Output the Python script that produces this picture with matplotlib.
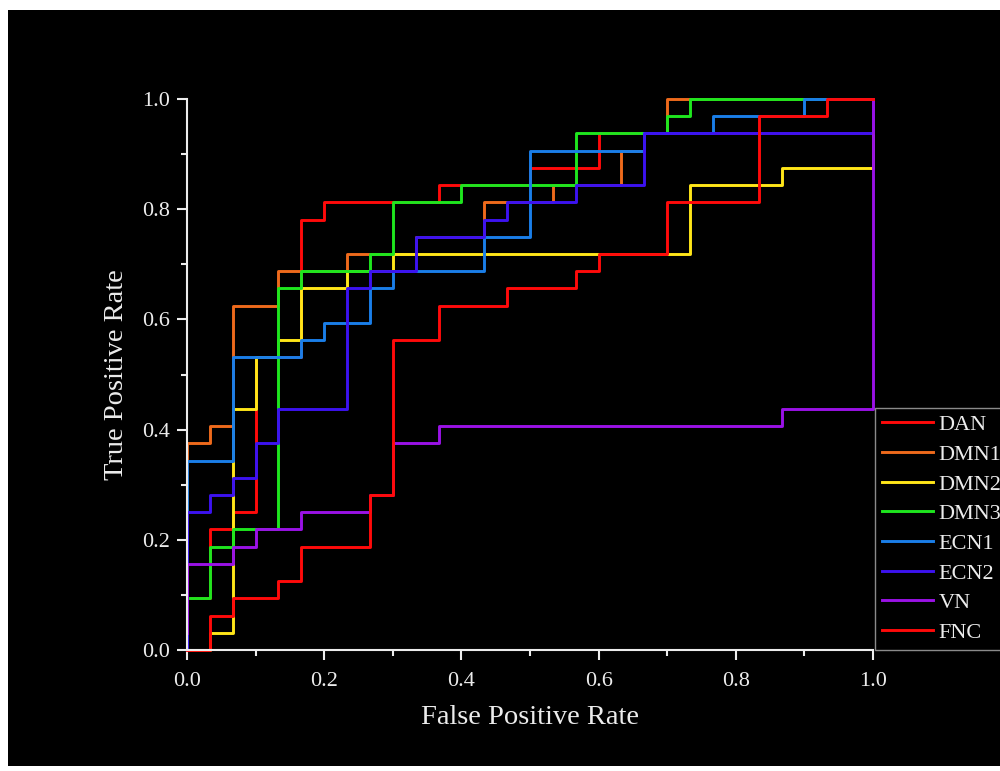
import numpy as np
import matplotlib.pyplot as plt
from matplotlib.patches import Rectangle

# ROC corner points, counted in steps of 1/30 (fpr) and 1/32 (tpr)
N_NEG = 30
N_POS = 32

labels = ["DAN", "DMN1", "DMN2", "DMN3", "ECN1", "ECN2", "VN", "FNC"]

dan_fpr = [0, 0, 1, 2, 3, 5, 6, 11, 15, 18, 30]
dan_tpr = [0, 3, 7, 8, 17, 25, 26, 27, 28, 30, 32]

dmn1_fpr = [0, 0, 1, 2, 4, 7, 10, 13, 16, 19, 20, 21, 30]
dmn1_tpr = [0, 12, 13, 20, 22, 23, 24, 26, 27, 29, 30, 32, 32]

dmn2_fpr = [0, 1, 2, 3, 4, 5, 7, 9, 22, 26, 30]
dmn2_tpr = [0, 1, 14, 17, 18, 21, 22, 23, 27, 28, 32]

dmn3_fpr = [0, 0, 1, 2, 4, 5, 8, 9, 12, 17, 21, 22, 30]
dmn3_tpr = [0, 3, 6, 7, 21, 22, 23, 26, 27, 30, 31, 32, 32]

ecn1_fpr = [0, 0, 2, 5, 6, 8, 9, 13, 15, 20, 23, 27, 30]
ecn1_tpr = [0, 11, 17, 18, 19, 21, 22, 24, 29, 30, 31, 32, 32]

ecn2_fpr = [0, 0, 1, 2, 3, 4, 7, 8, 10, 13, 14, 17, 20, 30]
ecn2_tpr = [0, 8, 9, 10, 12, 14, 21, 22, 24, 25, 26, 27, 30, 32]

vn_fpr = [0, 0, 2, 3, 5, 8, 9, 11, 26, 30]
vn_tpr = [1, 5, 6, 7, 8, 9, 12, 13, 14, 32]

fnc_fpr = [0, 1, 2, 4, 5, 8, 9, 11, 14, 17, 18, 21, 25, 28, 30]
fnc_tpr = [0, 2, 3, 4, 6, 9, 18, 20, 21, 22, 23, 26, 31, 32, 32]

colors = ["#ff0a0a", "#ee6a1c", "#ffe619", "#1ee61e", "#1a7ee8", "#3c12f0", "#9a12e6", "#ff0a0a"]

curves = [(dan_fpr, dan_tpr), (dmn1_fpr, dmn1_tpr), (dmn2_fpr, dmn2_tpr),
          (dmn3_fpr, dmn3_tpr), (ecn1_fpr, ecn1_tpr), (ecn2_fpr, ecn2_tpr),
          (vn_fpr, vn_tpr), (fnc_fpr, fnc_tpr)]

plt.rcParams['font.family'] = ['Liberation Serif', 'DejaVu Serif']
fg = "#ececec"

fig = plt.figure(figsize=(10, 7.71), dpi=100)
fig.patch.set_facecolor("white")
fig.add_artist(Rectangle((0.008, 0.006), 0.992, 0.981, transform=fig.transFigure,
                         facecolor="black", edgecolor="none", zorder=0))

ax = fig.add_axes([0.187, 0.1569, 0.686, 0.7147])
ax.set_facecolor("black")

for (fpr, tpr), name, c in zip(curves, labels, colors):
    x = np.array(fpr) / N_NEG
    y = np.array(tpr) / N_POS
    ax.step(x, y, where="post", color=c, lw=2.1, label=name, clip_on=False)

ax.set_xlim(0, 1)
ax.set_ylim(0, 1)
ax.set_xticks(np.arange(0, 1.01, 0.2))
ax.set_yticks(np.arange(0, 1.01, 0.2))
ax.set_xticks(np.arange(0.1, 1.0, 0.2), minor=True)
ax.set_yticks(np.arange(0.1, 1.0, 0.2), minor=True)
ax.xaxis.set_major_formatter(plt.FuncFormatter(lambda v, p: "{:.1f}".format(v)))
ax.yaxis.set_major_formatter(plt.FuncFormatter(lambda v, p: "{:.1f}".format(v)))

for s in ["top", "right"]:
    ax.spines[s].set_visible(False)
for s in ["left", "bottom"]:
    ax.spines[s].set_color(fg)
    ax.spines[s].set_linewidth(1.5)

ax.tick_params(which="major", length=7, width=1.5, colors=fg, labelsize=16)
ax.tick_params(which="minor", length=4, width=1.5, colors=fg)
ax.tick_params(axis="x", which="major", pad=9)
ax.tick_params(axis="y", which="major", pad=5)

ax.set_xlabel("False Positive Rate", fontsize=20.5, color=fg, labelpad=10)
ax.set_ylabel("True Positive Rate", fontsize=20.5, color=fg, labelpad=10)

leg = ax.legend(loc="upper left", bbox_to_anchor=(0.875, 1 - 408 / 771),
                bbox_transform=fig.transFigure, borderaxespad=0, fontsize=16,
                frameon=True, fancybox=False, facecolor="black", edgecolor="#8a8a8a",
                framealpha=1, handlelength=2.3, handletextpad=0.25, labelspacing=0.41,
                borderpad=0.3)
for t in leg.get_texts():
    t.set_color(fg)
for h in leg.get_lines():
    h.set_linewidth(2.1)

fig.savefig("out.png", dpi=100, facecolor=fig.get_facecolor())
